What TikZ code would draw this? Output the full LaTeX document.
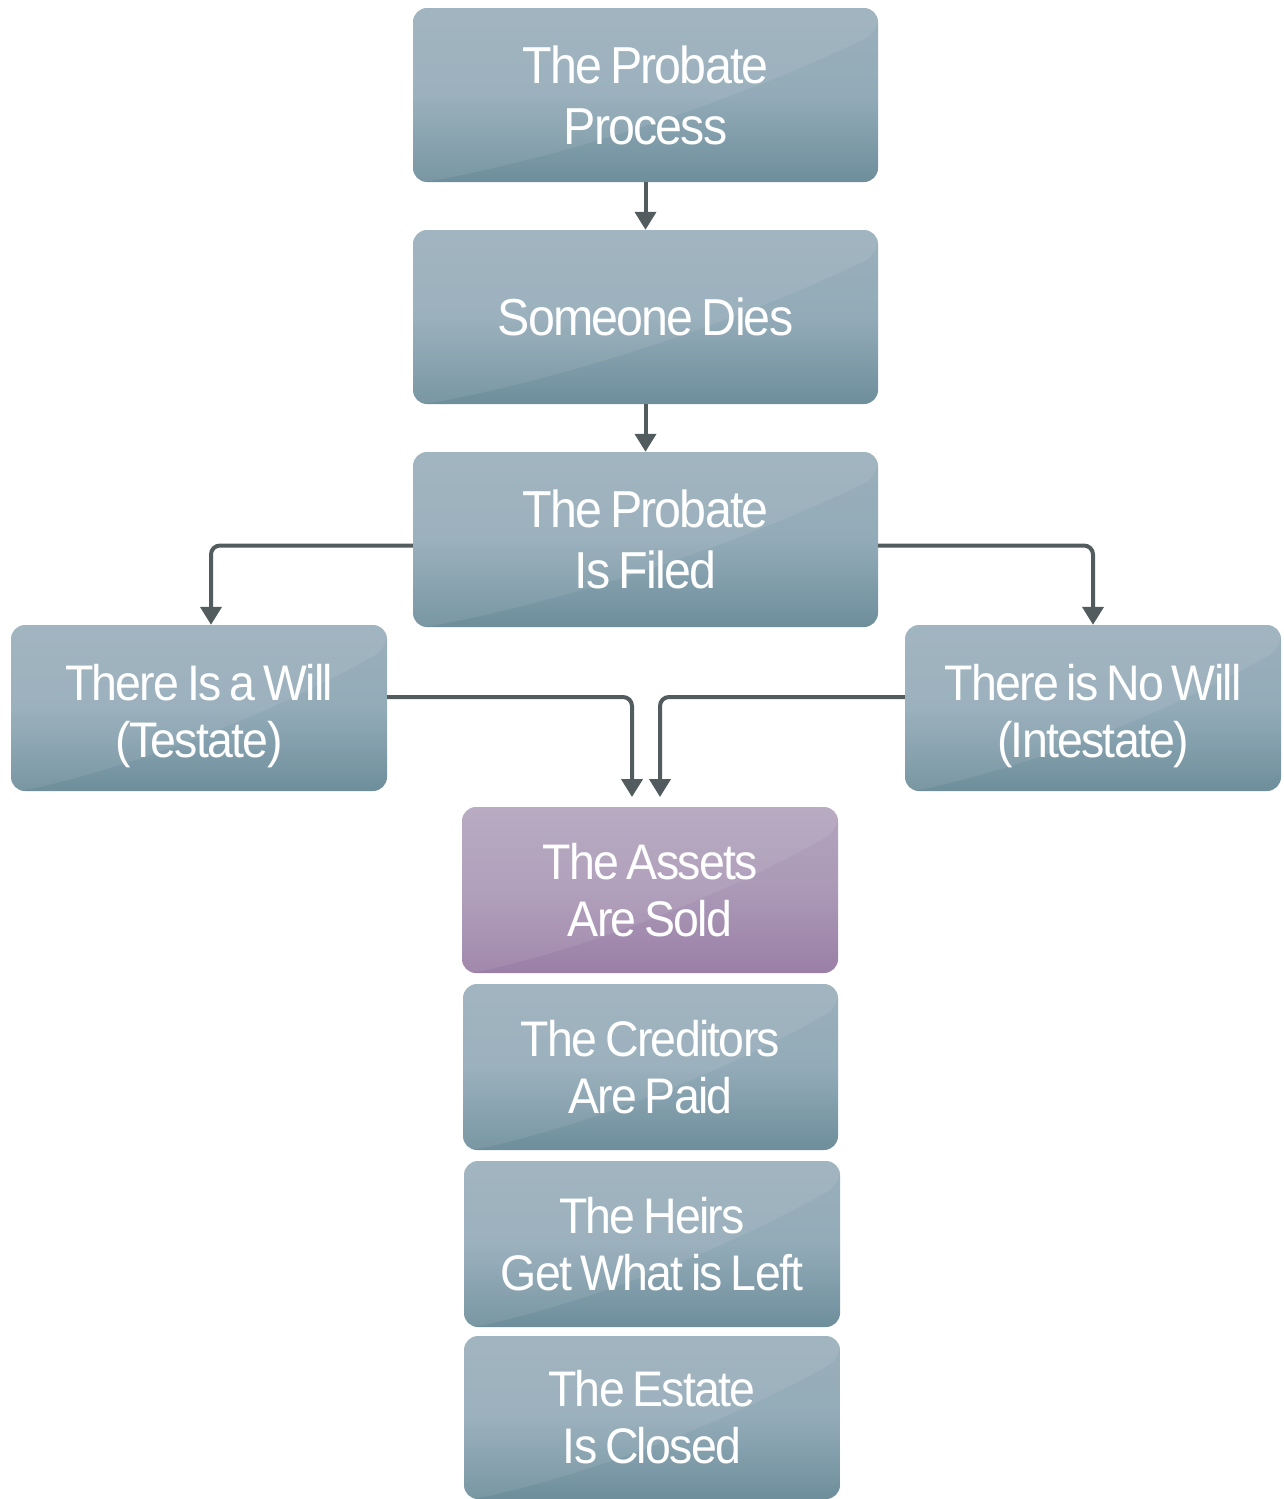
\documentclass[tikz,border=0pt]{standalone}
\usepackage{fontspec}
\usetikzlibrary{arrows.meta,calc}
\newfontfamily\boxfont[FakeStretch=0.93,LetterSpace=-3.5,WordSpace=0.7]{Liberation Sans}
\newcommand\droptext[2]{\raisebox{#1}[0pt][0pt]{\begin{tabular}[t]{@{}c@{}}#2\end{tabular}}}
\definecolor{bTop}{HTML}{9AAFBB}
\definecolor{bMid}{HTML}{93ABB8}
\definecolor{bBot}{HTML}{6E8E9C}
\definecolor{pTop}{HTML}{B2A4BD}
\definecolor{pMid}{HTML}{AB99B7}
\definecolor{pBot}{HTML}{9A7FA6}
\definecolor{lineC}{HTML}{525C5E}
\tikzset{
  box/.style={rounded corners=14pt, inner sep=0pt, text=white, align=center,
    top color=bTop, bottom color=bBot, middle color=bMid,
    path picture={
      \coordinate (sw) at (path picture bounding box.south west);
      \coordinate (se) at (path picture bounding box.south east);
      \coordinate (nw) at (path picture bounding box.north west);
      \coordinate (ne) at (path picture bounding box.north east);
      \coordinate (gA) at ($(sw)!0.03!(se)$);
      \coordinate (gB) at ($(se)!0.86!(ne)$);
      \coordinate (gx1) at ($(sw)!0.45!(se)$);
      \coordinate (gy1) at ($(sw)!0.22!(nw)$);
      \coordinate (gx2) at ($(sw)!0.8!(se)$);
      \coordinate (gy2) at ($(sw)!0.6!(nw)$);
      \fill[white,opacity=0.08]
        (gA) .. controls (gx1 |- gy1) and (gx2 |- gy2) .. (gB)
        -- (ne) -- (nw) -- (sw) -- cycle;
    }},
  purplebox/.style={top color=pTop, bottom color=pBot, middle color=pMid},
  bigtext/.style={font=\fontsize{52pt}{61pt}\boxfont},
  smalltext/.style={font=\fontsize{50pt}{57pt}\boxfont},
  conn/.style={draw=lineC, line width=4pt, rounded corners=9pt,
    -{Triangle[width=21pt,length=18pt]}}
}
\begin{document}
\begin{tikzpicture}[x=1pt,y=-1pt]
\useasboundingbox (0,0) rectangle (1283,1499);
\node[box,bigtext,minimum width=465pt,minimum height=174pt] (n1) at (645.5,95) {The Probate\\Process};
\node[box,bigtext,minimum width=465pt,minimum height=174pt] (n2) at (645.5,317) {Someone Dies};
\node[box,bigtext,minimum width=465pt,minimum height=175pt] (n3) at (645.5,539.5) {The Probate\\Is Filed};
\node[box,smalltext,minimum width=376pt,minimum height=166pt] (will) at (199,708) {\droptext{8pt}{There Is a Will\\(Testate)}};
\node[box,smalltext,minimum width=376pt,minimum height=166pt] (nowill) at (1093,708) {\droptext{8pt}{There is No Will\\(Intestate)}};
\node[box,purplebox,smalltext,minimum width=376pt,minimum height=166pt] (assets) at (650,890) {The Assets\\Are Sold};
\node[box,smalltext,minimum width=375pt,minimum height=166pt] (cred) at (650.5,1067) {The Creditors\\Are Paid};
\node[box,smalltext,minimum width=376pt,minimum height=166pt] (heirs) at (652,1244) {The Heirs\\Get What is Left};
\node[box,smalltext,minimum width=376pt,minimum height=163pt] (estate) at (652,1417.5) {The Estate\\Is Closed};
\coordinate (inL) at (632,797);
\coordinate (inR) at (660,797);
\draw[conn] (n1.south) -- (n2.north);
\draw[conn] (n2.south) -- (n3.north);
\draw[conn] ([yshift=-6pt]n3.west) -| ([xshift=12pt]will.north);
\draw[conn] ([yshift=-6pt]n3.east) -| (nowill.north);
\draw[conn] ([yshift=11pt]will.east) -| (inL);
\draw[conn] ([yshift=11pt]nowill.west) -| (inR);
\end{tikzpicture}
\end{document}
